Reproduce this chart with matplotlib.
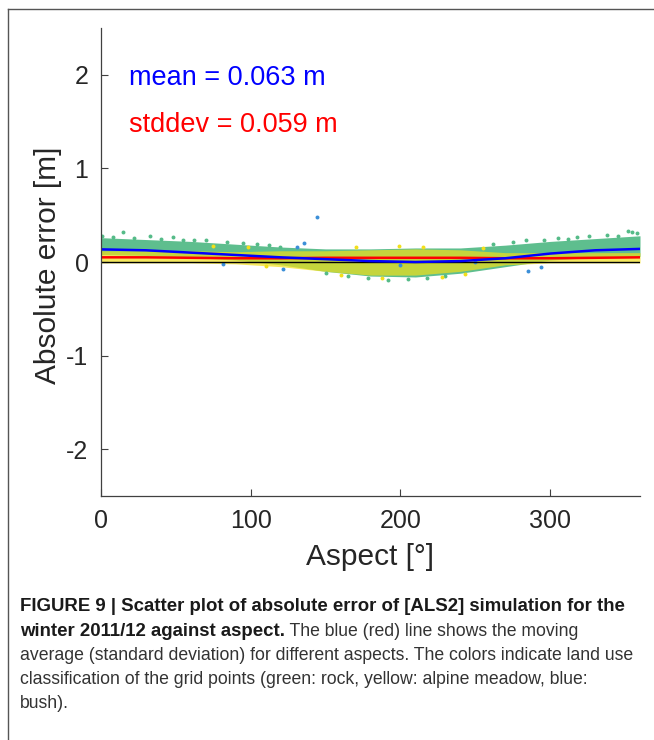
import matplotlib
matplotlib.use("Agg")
import matplotlib.pyplot as plt
from matplotlib.lines import Line2D

plt.rcParams['font.family'] = ['Liberation Sans', 'DejaVu Sans']
plt.rcParams['axes.unicode_minus'] = False

# aspect knots (deg) for the envelopes / moving lines
aspect_knots = [0, 30, 60, 90, 120, 150, 180, 210, 240, 270, 300, 330, 360]

# rock (green) cloud envelope
rock_upper = [0.26, 0.24, 0.22, 0.19, 0.16, 0.14, 0.14, 0.15, 0.15, 0.18, 0.22, 0.25, 0.28]
rock_lower = [0.08, 0.07, 0.05, 0.02, -0.03, -0.10, -0.15, -0.16, -0.12, -0.05, 0.02, 0.05, 0.06]

# alpine meadow (yellow) cloud envelope
meadow_upper = [0.12, 0.12, 0.12, 0.11, 0.12, 0.12, 0.13, 0.14, 0.13, 0.10, 0.10, 0.10, 0.10]
meadow_lower = [-0.01, -0.01, -0.01, -0.02, -0.05, -0.10, -0.14, -0.14, -0.10, -0.03, -0.01, -0.01, -0.01]

# moving average and moving std
moving_mean = [0.135, 0.125, 0.10, 0.075, 0.05, 0.03, 0.01, 0.0, 0.01, 0.04, 0.09, 0.125, 0.14]
moving_std = [0.05, 0.05, 0.045, 0.04, 0.04, 0.045, 0.045, 0.045, 0.045, 0.04, 0.04, 0.045, 0.05]

# single points at the edge of / outside the cloud
bush_aspect = [144.5, 130.7, 135.6, 121.8, 81.7, 285.0, 293.7, 200.0, 250.0]
bush_error = [0.486, 0.165, 0.20, -0.07, -0.02, -0.10, -0.05, -0.03, 0.0]
rock_aspect = [0.5, 14.9, 119.6, 352.0, 354.5, 8.0, 22.0, 33.0, 40.0, 48.0, 55.0, 62.0,
               70.0, 84.0, 95.0, 104.0, 112.0, 150.0, 165.0, 178.0, 192.0, 205.0, 218.0,
               230.0, 262.0, 275.0, 284.0, 296.0, 305.0, 312.0, 318.0, 326.0, 338.0, 345.0,
               358.0]
rock_error = [0.28, 0.32, 0.157, 0.33, 0.32, 0.27, 0.26, 0.28, 0.25, 0.27, 0.24, 0.23,
              0.24, 0.21, 0.20, 0.19, 0.18, -0.12, -0.15, -0.17, -0.19, -0.18, -0.17,
              -0.15, 0.19, 0.21, 0.24, 0.23, 0.26, 0.25, 0.27, 0.28, 0.29, 0.28,
              0.31]
meadow_aspect = [75.0, 98.0, 160.0, 170.0, 188.0, 199.0, 215.0, 228.0, 243.0, 255.0, 110.0]
meadow_error = [0.17, 0.16, -0.14, 0.16, -0.17, 0.17, 0.16, -0.16, -0.13, 0.15, -0.04]

x_ticks = [0, 100, 200, 300]
y_ticks = [-2, -1, 0, 1, 2]

GREEN = '#55bb88'
YELLOW = '#f2df1a'
BLUE = '#3b8fd8'

fig = plt.figure(figsize=(6.54, 7.40), dpi=100)
ax = fig.add_axes([101 / 654, 244 / 740, 539 / 654, 468 / 740])

ax.fill_between(aspect_knots, rock_lower, rock_upper, color=GREEN, lw=0, alpha=0.95)
ax.fill_between(aspect_knots, meadow_lower, meadow_upper, color=YELLOW, lw=0, alpha=0.7)
ax.scatter(rock_aspect, rock_error, s=8, color=GREEN, lw=0)
ax.scatter(meadow_aspect, meadow_error, s=8, color=YELLOW, lw=0)
ax.scatter(bush_aspect, bush_error, s=8, color=BLUE, lw=0)

ax.axhline(0, color='black', lw=1.0)
ax.plot(aspect_knots, moving_std, color='#ff0000', lw=1.8)
ax.plot(aspect_knots, moving_mean, color='#0000ff', lw=1.8)

ax.text(18.7, 1.886, 'mean = 0.063 m', color='#0000ff', fontsize=19.5, va='baseline')
ax.text(18.7, 1.393, 'stddev = 0.059 m', color='#ff0000', fontsize=19.5, va='baseline')

ax.set_xlim(0, 360)
ax.set_ylim(-2.5, 2.5)
ax.set_xticks(x_ticks)
ax.set_yticks(y_ticks)
ax.tick_params(direction='in', length=5, width=0.8, color='#404040',
               labelsize=18, labelcolor='#262626', pad=9)
for side in ['top', 'right']:
    ax.spines[side].set_visible(False)
for side in ['left', 'bottom']:
    ax.spines[side].set_color('#404040')
    ax.spines[side].set_linewidth(0.9)

fig.text(370 / 654, 1 - 557 / 740, 'Aspect [°]', fontsize=21.5, color='#262626',
         ha='center', va='center')
fig.text(48 / 654, 1 - 265 / 740, 'Absolute error [m]', fontsize=21.5, color='#262626',
         ha='center', va='center', rotation=90)

# page frame
fig.add_artist(Line2D([7.5 / 654, 7.5 / 654], [0, 1 - 9 / 740], color='#555555', lw=1.0))
fig.add_artist(Line2D([7.5 / 654, 1], [1 - 9 / 740, 1 - 9 / 740], color='#555555', lw=1.0))

# caption
cap_x = 20 / 654
bold_size = 13.4
reg_size = 12.7
line_y = [611, 636, 660, 684, 708]
fig.text(cap_x, 1 - line_y[0] / 740,
         'FIGURE 9 | Scatter plot of absolute error of [ALS2] simulation for the',
         fontsize=bold_size, weight='bold', color='#1a1a1a', va='baseline')
t2 = fig.text(cap_x, 1 - line_y[1] / 740, 'winter 2011/12 against aspect.',
              fontsize=bold_size, weight='bold', color='#1a1a1a', va='baseline')
ax.annotate(' The blue (red) line shows the moving', xy=(1, 0), xycoords=t2,
            fontsize=reg_size, color='#333333', va='bottom', ha='left',
            annotation_clip=False)
fig.text(cap_x, 1 - line_y[2] / 740,
         'average (standard deviation) for different aspects. The colors indicate land use',
         fontsize=reg_size, color='#333333', va='baseline')
fig.text(cap_x, 1 - line_y[3] / 740,
         'classification of the grid points (green: rock, yellow: alpine meadow, blue:',
         fontsize=reg_size, color='#333333', va='baseline')
fig.text(cap_x, 1 - line_y[4] / 740, 'bush).',
         fontsize=reg_size, color='#333333', va='baseline')

fig.savefig('out.png', dpi=100)
